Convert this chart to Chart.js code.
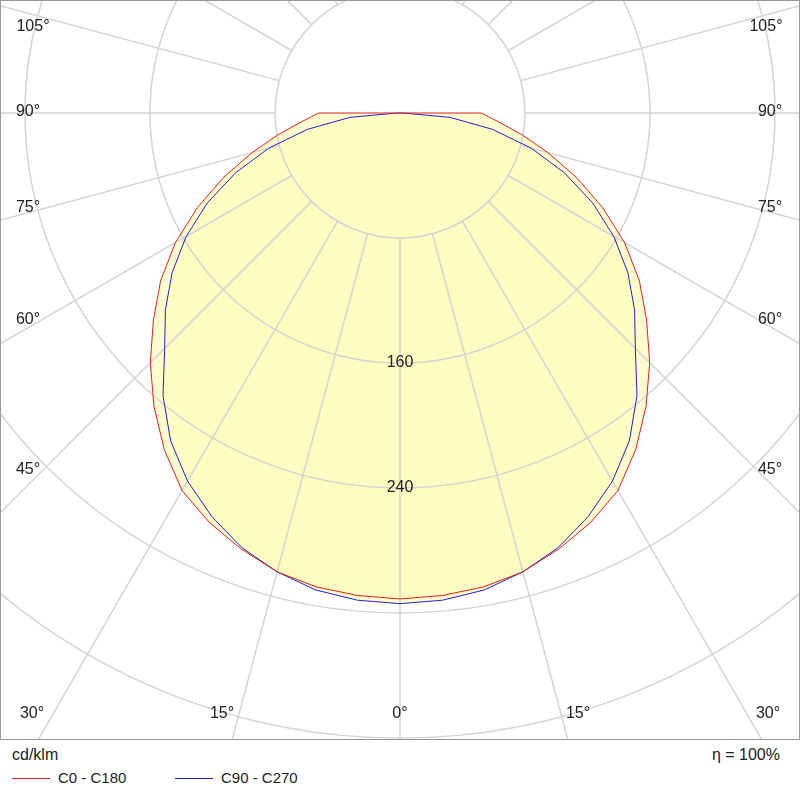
<!DOCTYPE html>
<html><head><meta charset="utf-8">
<script src="https://cdn.jsdelivr.net/npm/chart.js@4/dist/chart.umd.min.js"></script>
<style>
body{margin:0;background:#fff;font-family:"Liberation Sans",Arial,sans-serif;}
#wrap{position:relative;width:800px;height:798px;}
canvas{position:absolute;left:0;top:0;}
.t{position:absolute;font-size:16px;color:#222;}
.ln{position:absolute;height:1px;width:38px;top:778px;}
</style></head><body>
<div id="wrap">
<canvas id="c" width="800" height="740"></canvas>
<div class="t" style="left:12px;top:746px">cd/klm</div>
<div class="t" style="right:20px;top:746px">η = 100%</div>
<div class="ln" style="left:12px;background:#e02020"></div>
<div class="t" style="left:58px;top:769px;font-size:15px">C0 - C180</div>
<div class="ln" style="left:175px;background:#2020d0"></div>
<div class="t" style="left:221px;top:769px;font-size:15px">C90 - C270</div>
</div>
<script>
const angles=[0,5,10,15,20,25,30,35,40,45,50,55,60,65,70,75,80,85,90];
const c0c180=[311,310,308,304,297,289,279,263,245,226,206,187,166,143,120,98,79,63,52];
const c90c270=[314,313,310,304,296,285,272,256,236,213,196,178,158,136,112,87,60,32,2];
const ringValues=[80,160,240,320,400,480,560,640];
const ringLabels=[160,240];
const rayAngles=[-180,-165,-150,-135,-120,-105,-90,-75,-60,-45,-30,-15,0,15,30,45,60,75,90,105,120,135,150,165];
const angleLabels=[
 {t:"105°",x:33,y:27},{t:"90°",x:28,y:112},{t:"75°",x:28,y:208},{t:"60°",x:28,y:320},{t:"45°",x:28,y:470},{t:"30°",x:32,y:714},{t:"15°",x:222,y:714},
 {t:"0°",x:400,y:714},{t:"15°",x:578,y:714},{t:"30°",x:768,y:714},{t:"45°",x:770,y:470},{t:"60°",x:770,y:320},{t:"75°",x:770,y:208},{t:"90°",x:770,y:112},{t:"105°",x:766,y:27}
];
function curve(vals){
  const pts=[];
  for(let i=angles.length-1;i>=0;i--){const a=angles[i]*Math.PI/180;pts.push({x:-vals[i]*Math.sin(a),y:-vals[i]*Math.cos(a)});}
  for(let i=1;i<angles.length;i++){const a=angles[i]*Math.PI/180;pts.push({x:vals[i]*Math.sin(a),y:-vals[i]*Math.cos(a)});}
  pts.push(pts[0]);
  return pts;
}
const grid={id:'grid',
 beforeDatasetsDraw(ch){
  const c=ch.ctx,xs=ch.scales.x,ys=ch.scales.y,a=ch.chartArea;
  const cx=xs.getPixelForValue(0),cy=ys.getPixelForValue(0),k=xs.getPixelForValue(1)-cx;
  c.save();c.beginPath();c.rect(a.left,a.top,a.right-a.left,a.bottom-a.top);c.clip();
  c.strokeStyle='#d4d4d4';c.lineWidth=1.5;
  ringValues.forEach(v=>{c.beginPath();c.arc(cx,cy,v*k,0,2*Math.PI);c.stroke();});
  rayAngles.forEach(d=>{const r=d*Math.PI/180,dx=Math.sin(r),dy=Math.cos(r);
   c.beginPath();c.moveTo(cx+dx*80*k,cy+dy*80*k);c.lineTo(cx+dx*2000,cy+dy*2000);c.stroke();});
  c.restore();
 },
 afterDatasetsDraw(ch){
  const c=ch.ctx,xs=ch.scales.x,ys=ch.scales.y;
  c.save();c.fillStyle='#222';c.font='16px "Liberation Sans",Arial';c.textAlign='center';c.textBaseline='middle';
  ringLabels.forEach(v=>c.fillText(String(v),xs.getPixelForValue(0),ys.getPixelForValue(-v)));
  angleLabels.forEach(l=>c.fillText(l.t,l.x,l.y));
  c.strokeStyle='#999';c.lineWidth=1;c.strokeRect(0.5,0.5,799,739);
  c.restore();
 }};
new Chart(document.getElementById('c'),{type:'scatter',
 data:{datasets:[
  {data:curve(c0c180),showLine:true,borderColor:'#e02020',borderWidth:1,pointRadius:0,fill:'shape',backgroundColor:'rgba(255,251,190,0.75)',tension:0},
  {data:curve(c90c270),showLine:true,borderColor:'#2020d0',borderWidth:1,pointRadius:0,fill:'shape',backgroundColor:'rgba(255,250,170,0.6)',tension:0}
 ]},
 options:{responsive:false,animation:false,layout:{padding:0},
  plugins:{legend:{display:false},tooltip:{enabled:false},filler:{drawTime:'beforeDatasetsDraw'}},
  scales:{x:{type:'linear',display:false,min:-256,max:256},y:{type:'linear',display:false,min:-401.28,max:72.32}}},
 plugins:[grid]});
</script></body></html>
